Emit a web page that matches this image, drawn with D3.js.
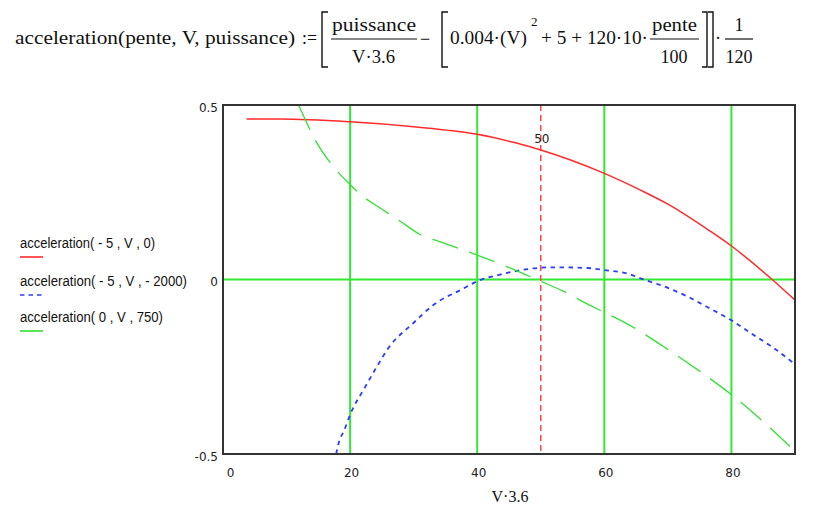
<!DOCTYPE html>
<html>
<head>
<meta charset="utf-8">
<script src="https://cdn.jsdelivr.net/npm/d3@7"></script>
<style>
  body { margin: 0; background: #fff; }
  svg { display: block; }
  .tick text { font-family: "DejaVu Sans", sans-serif; font-size: 12px; fill: #222; }
</style>
</head>
<body>
<svg width="828" height="512"></svg>
<script>
// values (x = V, y = acceleration)
var xTicks = [0, 20, 40, 60, 80];
var yTicks = [-0.5, 0, 0.5];
var yTickLabels = ["-0.5", "0", "0.5"];
var gridX = [20, 40, 60, 80];
var gridY = [0];
var markerX = [50];

var redV = [3.7, 9, 20, 30, 35.2, 40, 45.7, 50, 60, 65.7, 70, 76.7, 80, 86.4, 90];
var redA = [0.46, 0.46, 0.452, 0.438, 0.428, 0.416, 0.393, 0.371, 0.304, 0.256, 0.216, 0.138, 0.096, 0, -0.059];

var blueV = [17.8, 18.3, 19, 20.1, 22.4, 24.2, 26, 30, 33.1, 37.6, 40, 43.6, 47.6, 52, 57.3, 60, 63.6, 66.2, 70, 73, 76.2, 80, 83.5, 86.7, 90];
var blueA = [-0.5, -0.463, -0.435, -0.383, -0.307, -0.25, -0.197, -0.124, -0.073, -0.028, -0.005, 0.014, 0.029, 0.035, 0.033, 0.027, 0.017, 0, -0.024, -0.048, -0.079, -0.117, -0.159, -0.197, -0.243];

var greenV = [11.9, 13.2, 14.2, 16.9, 20, 22.1, 24.7, 27.9, 31, 34.2, 39.7, 45.7, 50, 53.6, 57.5, 60, 63.6, 69.3, 75.1, 80, 87.2, 90];
var greenA = [0.5, 0.448, 0.41, 0.334, 0.272, 0.237, 0.205, 0.167, 0.129, 0.108, 0.072, 0.029, -0.005, -0.034, -0.072, -0.094, -0.127, -0.192, -0.264, -0.33, -0.444, -0.492];

var legendLabels = ["acceleration( - 5 , V , 0)", "acceleration( - 5 , V , - 2000)", "acceleration( 0 , V , 750)"];

var series = [
  { v: redV, a: redA, color: "#ff2a2a", dash: null, width: 1.5 },
  { v: blueV, a: blueA, color: "#2a3cff", dash: "4.5,4.5", width: 1.8 },
  { v: greenV, a: greenA, color: "#33e033", dash: "27,12", width: 1.3 }
];

var svg = d3.select("svg");
var margin = { left: 223, right: 33, top: 105, bottom: 58 };
var plotW = 828 - margin.left - margin.right;
var plotH = 512 - margin.top - margin.bottom;

var x = d3.scaleLinear().domain([0, 90]).range([0, plotW]);
var y = d3.scaleLinear().domain([-0.5, 0.5]).range([plotH, 0]);

// formula at the top
var f = svg.append("g").attr("font-family", "'Liberation Serif', 'Times New Roman', serif").attr("font-size", 18).attr("fill", "#111");
function ftext(s, x0, base, w, anchor, size) {
  var t = f.append("text").attr("x", x0).attr("y", base).text(s);
  if (anchor) t.attr("text-anchor", anchor);
  if (size) t.attr("font-size", size);
  if (w) t.attr("textLength", w).attr("lengthAdjust", "spacingAndGlyphs");
  return t;
}
function bracket(x0, open) {
  var d = open ? "M" + (x0 + 6) + ",12H" + x0 + "V67H" + (x0 + 6) : "M" + x0 + ",12H" + (x0 + 5) + "V67H" + x0;
  f.append("path").attr("d", d).attr("fill", "none").attr("stroke", "#111").attr("stroke-width", 1.4);
}
function bar(x0, x1) {
  f.append("line").attr("x1", x0).attr("x2", x1).attr("y1", 39).attr("y2", 39).attr("stroke", "#111").attr("stroke-width", 1.2);
}
ftext("acceleration(pente, V, puissance)", 15, 44, 280);
ftext(":=", 302, 44, 15);
bracket(322, true);
ftext("puissance", 332, 31, 84);
bar(331, 417);
ftext("V·3.6", 352, 63, 43);
ftext("−", 425, 45, null, "middle");
bracket(442, true);
ftext("0.004·(V)", 450, 44, 77);
ftext("2", 531, 26, null, null, 13);
ftext("+ 5 + 120·10·", 541, 44, 107);
ftext("pente", 652, 31, 45);
bar(650, 699);
ftext("100", 674, 63, null, "middle");
bracket(702, false);
bracket(708, false);
ftext("·", 718, 44, null, "middle");
ftext("1", 739, 31, null, "middle");
bar(725, 753);
ftext("120", 739, 63, null, "middle");

var g = svg.append("g").attr("transform", "translate(" + margin.left + "," + margin.top + ")");

g.append("clipPath").attr("id", "clip").append("rect").attr("width", plotW).attr("height", plotH);

// grid lines
g.selectAll(".gx").data(gridX).enter().append("line")
  .attr("x1", function(d) { return x(d); }).attr("x2", function(d) { return x(d); })
  .attr("y1", 0).attr("y2", plotH)
  .attr("stroke", "#33e833").attr("stroke-width", 2);
g.selectAll(".gy").data(gridY).enter().append("line")
  .attr("x1", 0).attr("x2", plotW)
  .attr("y1", function(d) { return y(d); }).attr("y2", function(d) { return y(d); })
  .attr("stroke", "#33e833").attr("stroke-width", 2);

// marker
g.selectAll(".mk").data(markerX).enter().append("line")
  .attr("x1", function(d) { return x(d); }).attr("x2", function(d) { return x(d); })
  .attr("y1", 0).attr("y2", plotH)
  .attr("stroke", "#ff3a3a").attr("stroke-width", 1.4).attr("stroke-dasharray", "6,4");
g.selectAll(".mkl").data(markerX).enter().append("text")
  .attr("x", function(d) { return x(d) + 1; }).attr("y", 38)
  .attr("text-anchor", "middle")
  .attr("font-family", "DejaVu Sans, sans-serif").attr("font-size", 12).attr("fill", "#222")
  .text(function(d) { return d; });

// curves
var line = d3.line()
  .x(function(d) { return x(d[0]); })
  .y(function(d) { return y(d[1]); })
  .curve(d3.curveMonotoneX);

series.forEach(function(s) {
  var pts = s.v.map(function(v, i) { return [v, s.a[i]]; });
  g.append("path").datum(pts)
    .attr("d", line)
    .attr("clip-path", "url(#clip)")
    .attr("fill", "none")
    .attr("stroke", s.color)
    .attr("stroke-width", s.width)
    .attr("stroke-dasharray", s.dash);
});

// frame
g.append("rect").attr("width", plotW).attr("height", plotH)
  .attr("fill", "none").attr("stroke", "#333").attr("stroke-width", 2);

// axes (labels only, Mathcad style)
var xAxis = g.append("g").attr("transform", "translate(0," + plotH + ")")
  .call(d3.axisBottom(x).tickValues(xTicks).tickSize(0).tickPadding(14));
xAxis.select(".domain").remove();
xAxis.selectAll(".tick text").attr("dx", function(d) { return d === 0 ? 7 : 1; });

var yAxis = g.append("g")
  .call(d3.axisLeft(y).tickValues(yTicks).tickSize(0).tickPadding(5)
    .tickFormat(function(d, i) { return yTickLabels[i]; }));
yAxis.select(".domain").remove();
yAxis.selectAll(".tick text").attr("dy", "0.5em");

// axis title
svg.append("text").attr("x", 510).attr("y", 502).attr("text-anchor", "middle")
  .attr("font-family", "'Liberation Serif', serif").attr("font-size", 16).attr("fill", "#111")
  .text("V·3.6");

// legend
var legY = [248, 286, 322];
var legW = [135, 167, 143];
var leg = svg.append("g");
legendLabels.forEach(function(t, i) {
  leg.append("text").attr("x", 20).attr("y", legY[i])
    .attr("font-family", "'Liberation Sans Narrow', 'Liberation Sans', sans-serif").attr("font-size", 14).attr("fill", "#111")
    .attr("textLength", legW[i]).attr("lengthAdjust", "spacingAndGlyphs")
    .text(t);
  leg.append("line").attr("x1", 20).attr("x2", 43).attr("y1", legY[i] + 9).attr("y2", legY[i] + 9)
    .attr("stroke", series[i].color).attr("stroke-width", 1.6)
    .attr("stroke-dasharray", i === 1 ? "4.5,4" : null);
});
</script>
</body>
</html>
